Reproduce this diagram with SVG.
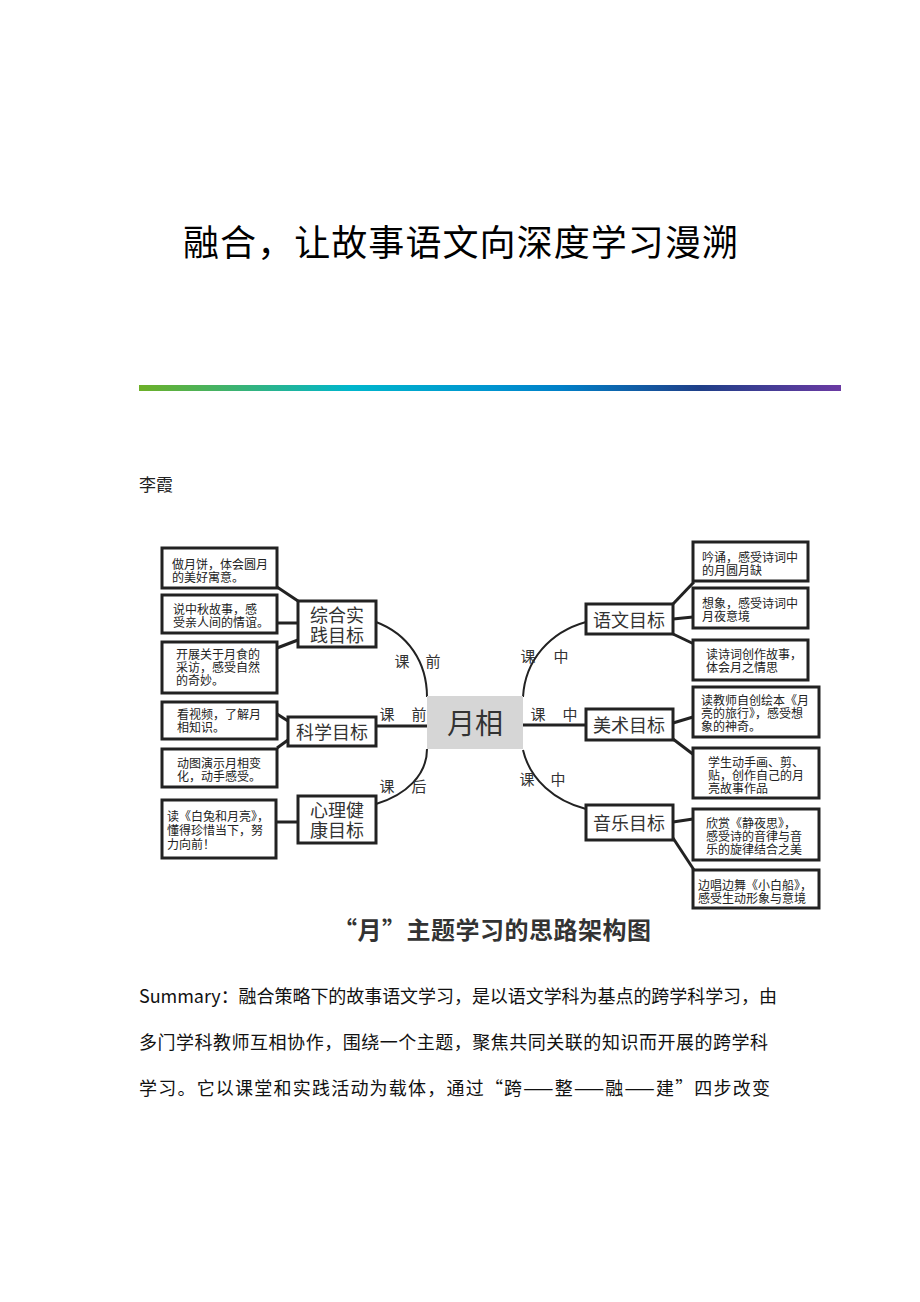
<svg xmlns="http://www.w3.org/2000/svg" width="920" height="1302" viewBox="0 0 920 1302">
<defs>
<linearGradient id="bar" x1="0" y1="0" x2="1" y2="0">
<stop offset="0" stop-color="#6db027"/>
<stop offset="0.3" stop-color="#00b6cc"/>
<stop offset="0.5" stop-color="#0095d0"/>
<stop offset="0.6" stop-color="#0080c8"/>
<stop offset="0.8" stop-color="#1f3f88"/>
<stop offset="1" stop-color="#6b3aa3"/>
</linearGradient>
<style>
.cjk{font-family:"Noto Sans CJK SC","Noto Sans",sans-serif}
.leaf rect{fill:#fff;stroke:#222;stroke-width:3}
.leaf text{font-family:"Noto Sans CJK SC",sans-serif;font-size:12px;fill:#222;dominant-baseline:central}
.goal rect{fill:#fff;stroke:#222;stroke-width:3}
.goal text{font-family:"Noto Sans CJK SC",sans-serif;font-size:18px;fill:#333;text-anchor:middle;dominant-baseline:central}
.lbl{font-family:"Noto Sans CJK SC",sans-serif;font-size:15px;fill:#333;text-anchor:middle;dominant-baseline:central}
.conn path{fill:none;stroke:#222;stroke-width:2}
.conn line{stroke:#222;stroke-width:3}
.body{font-family:"Noto Sans CJK SC",sans-serif;font-size:18px;fill:#111;dominant-baseline:central}
</style>
</defs>
<rect width="920" height="1302" fill="#fff"/>
<text id="title" class="cjk" x="183" y="240" font-size="36" fill="#000" textLength="555" lengthAdjust="spacing" dominant-baseline="central">融合，让故事语文向深度学习漫溯</text>
<rect id="bar-rule" x="139" y="385" width="702" height="6" fill="url(#bar)"/>
<text id="author" class="cjk" x="139" y="483" font-size="17" fill="#222" dominant-baseline="central">李霞</text>

<g id="connectors" class="conn">
<line x1="277" y1="587" x2="298" y2="601"/>
<line x1="277" y1="623" x2="298" y2="623"/>
<line x1="277" y1="648" x2="298" y2="640"/>
<line x1="277" y1="714" x2="288" y2="721"/>
<line x1="277" y1="748" x2="288" y2="740"/>
<line x1="276" y1="822" x2="298" y2="822"/>
<path d="M376,622 C408,634 427,662 427,697"/>
<line x1="376" y1="726" x2="427" y2="726"/>
<path d="M427,749 C427,775 406,795 376,804"/>
<path d="M523,697 C525,660 550,632 586,622"/>
<line x1="523" y1="725" x2="586" y2="725"/>
<path d="M523,750 C530,780 555,801 586,809"/>
<line x1="673" y1="604" x2="694" y2="582"/>
<line x1="673" y1="619" x2="693" y2="617"/>
<line x1="673" y1="634" x2="694" y2="644"/>
<line x1="673" y1="723" x2="693" y2="717"/>
<line x1="673" y1="739" x2="694" y2="755"/>
<line x1="673" y1="822" x2="693" y2="819"/>
<line x1="673" y1="838" x2="694" y2="870"/>
</g>

<g id="center">
<rect x="427" y="696" width="96" height="53" fill="#d6d6d6"/>
<text x="475" y="722" class="cjk" font-size="28" fill="#333" text-anchor="middle" dominant-baseline="central">月相</text>
</g>

<g id="labels">
<text class="lbl" x="402" y="660">课</text><text class="lbl" x="433" y="660">前</text>
<text class="lbl" x="387" y="713">课</text><text class="lbl" x="419" y="713">前</text>
<text class="lbl" x="387" y="785">课</text><text class="lbl" x="419" y="785">后</text>
<text class="lbl" x="528" y="655">课</text><text class="lbl" x="561" y="655">中</text>
<text class="lbl" x="538" y="713">课</text><text class="lbl" x="570" y="713">中</text>
<text class="lbl" x="527" y="778">课</text><text class="lbl" x="558" y="778">中</text>
</g>

<g id="goal-zonghe" class="goal"><rect x="298" y="601" width="78" height="46"/><text x="337" y="614">综合实<tspan x="337" dy="20">践目标</tspan></text></g>
<g id="goal-kexue" class="goal"><rect x="288" y="717" width="88" height="29"/><text x="332" y="731">科学目标</text></g>
<g id="goal-xinli" class="goal"><rect x="298" y="796" width="78" height="47"/><text x="337" y="809">心理健<tspan x="337" dy="20">康目标</tspan></text></g>
<g id="goal-yuwen" class="goal"><rect x="586" y="604" width="87" height="30"/><text x="629" y="619">语文目标</text></g>
<g id="goal-meishu" class="goal"><rect x="586" y="709" width="87" height="31"/><text x="629" y="724">美术目标</text></g>
<g id="goal-yinyue" class="goal"><rect x="586" y="805" width="87" height="35"/><text x="629" y="822">音乐目标</text></g>

<g id="leaf-1" class="leaf"><rect x="162" y="548" width="115" height="40"/><text x="172" y="563">做月饼，体会圆月<tspan x="172" dy="13">的美好寓意。</tspan></text></g>
<g id="leaf-2" class="leaf"><rect x="162" y="595" width="115" height="38"/><text x="173" y="608">说中秋故事，感<tspan x="173" dy="13">受亲人间的情谊。</tspan></text></g>
<g id="leaf-3" class="leaf"><rect x="162" y="642" width="115" height="51"/><text x="176" y="653">开展关于月食的<tspan x="176" dy="13">采访，感受自然</tspan><tspan x="176" dy="13">的奇妙。</tspan></text></g>
<g id="leaf-4" class="leaf"><rect x="162" y="702" width="115" height="37"/><text x="177" y="713">看视频，了解月<tspan x="177" dy="13">相知识。</tspan></text></g>
<g id="leaf-5" class="leaf"><rect x="162" y="749" width="115" height="38"/><text x="177" y="762">动图演示月相变<tspan x="177" dy="13">化，动手感受。</tspan></text></g>
<g id="leaf-6" class="leaf"><rect x="162" y="800" width="114" height="58"/><text x="167" y="815">读《白兔和月亮》，<tspan x="167" dy="14">懂得珍惜当下，努</tspan><tspan x="167" dy="14">力向前！</tspan></text></g>

<g id="leaf-7" class="leaf"><rect x="693" y="542" width="115" height="39"/><text x="702" y="556">吟诵，感受诗词中<tspan x="702" dy="13">的月圆月缺</tspan></text></g>
<g id="leaf-8" class="leaf"><rect x="693" y="588" width="115" height="40"/><text x="702" y="602">想象，感受诗词中<tspan x="702" dy="13">月夜意境</tspan></text></g>
<g id="leaf-9" class="leaf"><rect x="693" y="640" width="115" height="40"/><text x="706" y="653">读诗词创作故事，<tspan x="706" dy="13">体会月之情思</tspan></text></g>
<g id="leaf-10" class="leaf"><rect x="693" y="687" width="126" height="50"/><text x="701" y="699">读教师自创绘本《月<tspan x="701" dy="13">亮的旅行》，感受想</tspan><tspan x="701" dy="13">象的神奇。</tspan></text></g>
<g id="leaf-11" class="leaf"><rect x="693" y="748" width="126" height="50"/><text x="708" y="761">学生动手画、剪、<tspan x="708" dy="13">贴，创作自己的月</tspan><tspan x="708" dy="13">亮故事作品</tspan></text></g>
<g id="leaf-12" class="leaf"><rect x="693" y="809" width="126" height="51"/><text x="706" y="822">欣赏《静夜思》，<tspan x="706" dy="13">感受诗的音律与音</tspan><tspan x="706" dy="13">乐的旋律结合之美</tspan></text></g>
<g id="leaf-13" class="leaf"><rect x="693" y="870" width="126" height="38"/><text x="698" y="884">边唱边舞《小白船》，<tspan x="698" dy="13">感受生动形象与意境</tspan></text></g>

<text id="caption" class="cjk" x="333" y="928" font-size="24" font-weight="bold" fill="#333" textLength="318" lengthAdjust="spacing" dominant-baseline="central">“月”主题学习的思路架构图</text>

<g id="summary">
<text class="body" x="139" y="995" textLength="638" lengthAdjust="spacing">Summary：融合策略下的故事语文学习，是以语文学科为基点的跨学科学习，由</text>
<text class="body" x="139" y="1041" textLength="629" lengthAdjust="spacing">多门学科教师互相协作，围绕一个主题，聚焦共同关联的知识而开展的跨学科</text>
<text class="body" x="139" y="1087" textLength="631" lengthAdjust="spacing">学习。它以课堂和实践活动为载体，通过“跨——整——融——建”四步改变</text>
</g>
</svg>
